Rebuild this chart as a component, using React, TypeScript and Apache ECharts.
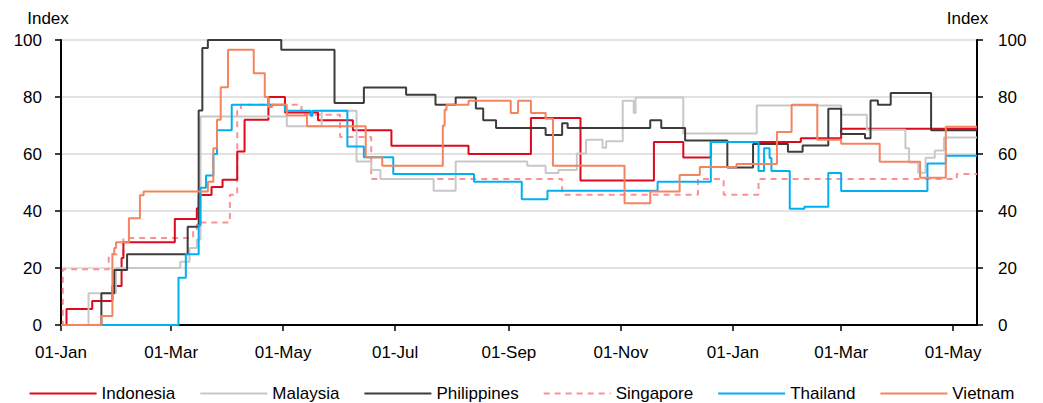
import React, { useEffect, useRef } from "react";
import * as echarts from "echarts";

const seriesNames = ["Indonesia", "Malaysia", "Philippines", "Singapore", "Thailand", "Vietnam"];
const seriesColors = ["#dc0a1e", "#c8c8c8", "#3c3c3c", "#ff8f96", "#00b0f0", "#f4845f"];
const xTickDates = ["2020-01-01", "2020-03-01", "2020-05-01", "2020-07-01", "2020-09-01", "2020-11-01", "2021-01-01", "2021-03-01", "2021-05-01"];
const monthNames = ["Jan", "Feb", "Mar", "Apr", "May", "Jun", "Jul", "Aug", "Sep", "Oct", "Nov", "Dec"];
const xMin = "2020-01-01";
const xMax = "2021-05-14";

// each point: [date the value starts, value]
const indonesia: [string, number][] = [
  ["2020-01-01", 0], ["2020-01-04", 5.6], ["2020-01-18", 8.4], ["2020-01-29", 13.7], ["2020-02-03", 23.5],
  ["2020-02-04", 29], ["2020-03-03", 37.2], ["2020-03-15", 41], ["2020-03-16", 45.6], ["2020-03-23", 48.4],
  ["2020-03-29", 51], ["2020-04-06", 60.9], ["2020-04-10", 72], ["2020-04-23", 80], ["2020-05-02", 74.6],
  ["2020-05-20", 71.8], ["2020-06-08", 68.3], ["2020-06-29", 62.9], ["2020-08-10", 60], ["2020-09-13", 72.6],
  ["2020-10-10", 50.7], ["2020-11-19", 64.2], ["2020-12-05", 58.8], ["2020-12-20", 64.2], ["2021-02-07", 65.5],
  ["2021-03-01", 68.9], ["2021-05-14", 68.9],
];
const malaysia: [string, number][] = [
  ["2020-01-01", 0], ["2020-01-16", 11.1], ["2020-01-31", 20], ["2020-03-06", 22.2], ["2020-03-11", 27],
  ["2020-03-15", 30], ["2020-03-17", 73.2], ["2020-05-03", 69.7], ["2020-05-22", 75.2], ["2020-06-10", 57.4],
  ["2020-06-18", 54.4], ["2020-06-23", 51.2], ["2020-07-22", 47.1], ["2020-08-03", 57.4], ["2020-09-11", 55.9],
  ["2020-09-21", 53.3], ["2020-09-28", 54.4], ["2020-10-08", 60.2], ["2020-10-13", 65], ["2020-10-22", 62.2],
  ["2020-10-24", 64.5], ["2020-11-02", 78.7], ["2020-11-08", 74.4], ["2020-11-09", 79.8], ["2020-12-05", 67.2],
  ["2021-01-14", 77], ["2021-03-01", 73.8], ["2021-03-15", 68.5], ["2021-04-05", 62], ["2021-04-07", 57],
  ["2021-04-12", 53.4], ["2021-04-16", 58.7], ["2021-04-21", 61.2], ["2021-04-26", 65.8], ["2021-05-14", 65.8],
];
const philippines: [string, number][] = [
  ["2020-01-01", 0], ["2020-01-23", 11.1], ["2020-01-30", 19.3], ["2020-02-06", 24.8], ["2020-03-10", 34.5],
  ["2020-03-16", 75.3], ["2020-03-18", 97.2], ["2020-03-21", 100], ["2020-04-30", 96.6], ["2020-05-29", 77.9],
  ["2020-06-14", 83.3], ["2020-07-07", 80.8], ["2020-07-23", 77.3], ["2020-08-03", 79.8], ["2020-08-14", 76],
  ["2020-08-18", 71.8], ["2020-08-25", 69.1], ["2020-09-21", 66.7], ["2020-09-30", 70.8], ["2020-10-03", 69.1],
  ["2020-11-17", 71.8], ["2020-11-23", 69.1], ["2020-12-06", 64.7], ["2020-12-29", 55.3], ["2021-01-12", 63.5],
  ["2021-01-31", 60.8], ["2021-02-08", 63], ["2021-02-22", 75.9], ["2021-03-01", 67], ["2021-03-14", 65.5],
  ["2021-03-17", 78.8], ["2021-03-21", 77.3], ["2021-03-28", 81.4], ["2021-04-19", 68.3], ["2021-05-14", 68.3],
];
const singapore: [string, number][] = [
  ["2020-01-01", 0], ["2020-01-02", 19.6], ["2020-01-27", 24.8], ["2020-02-04", 30.5], ["2020-03-13", 33],
  ["2020-03-15", 36], ["2020-04-02", 45.7], ["2020-04-06", 75.2], ["2020-04-08", 77.3], ["2020-05-11", 73.8],
  ["2020-06-01", 66], ["2020-06-18", 51.2], ["2020-09-30", 45.7], ["2020-12-13", 51.2], ["2020-12-27", 45.7],
  ["2021-01-15", 51.2], ["2021-05-03", 53], ["2021-05-14", 53],
];
const thailand: [string, number][] = [
  ["2020-01-01", 0], ["2020-03-05", 16.6], ["2020-03-09", 24.8], ["2020-03-16", 35], ["2020-03-17", 48.2],
  ["2020-03-20", 52.5], ["2020-03-24", 60], ["2020-03-26", 68.3], ["2020-04-03", 77.3], ["2020-05-02", 75.2],
  ["2020-05-16", 73.4], ["2020-05-17", 75.2], ["2020-06-05", 62.6], ["2020-06-14", 58.9], ["2020-06-30", 53],
  ["2020-08-13", 50.3], ["2020-09-08", 44.1], ["2020-09-22", 47.1], ["2020-11-21", 50.3], ["2020-12-20", 64.2],
  ["2021-01-15", 54], ["2021-01-18", 62], ["2021-01-21", 58.6], ["2021-01-22", 54], ["2021-02-01", 40.8],
  ["2021-02-09", 41.5], ["2021-02-22", 53.3], ["2021-03-01", 47], ["2021-04-17", 56.7], ["2021-04-27", 59.4],
  ["2021-05-14", 59.4],
];
const vietnam: [string, number][] = [
  ["2020-01-01", 0], ["2020-01-23", 3.2], ["2020-01-29", 24.8], ["2020-01-30", 27], ["2020-01-31", 29],
  ["2020-02-07", 37.5], ["2020-02-13", 45.5], ["2020-02-15", 46.8], ["2020-03-21", 50.3], ["2020-03-24", 62],
  ["2020-03-26", 72], ["2020-03-28", 83.4], ["2020-04-01", 96.6], ["2020-04-15", 88.3], ["2020-04-21", 80],
  ["2020-04-23", 76.5], ["2020-04-25", 77.3], ["2020-05-03", 73.5], ["2020-05-14", 69.7], ["2020-06-15", 58.9],
  ["2020-06-24", 55.9], ["2020-07-27", 70], ["2020-07-28", 75.5], ["2020-07-29", 77.3], ["2020-08-10", 78.7],
  ["2020-09-02", 74.4], ["2020-09-06", 78.7], ["2020-09-13", 74.4], ["2020-09-21", 72.4], ["2020-09-25", 55.9],
  ["2020-11-03", 42.7], ["2020-11-17", 46.8], ["2020-12-03", 52.6], ["2020-12-14", 55.4], ["2021-01-03", 56.5],
  ["2021-01-25", 67.7], ["2021-02-02", 77.3], ["2021-02-16", 65], ["2021-03-01", 63.6], ["2021-03-22", 57.3],
  ["2021-04-13", 51.7], ["2021-04-27", 69.6], ["2021-05-14", 69.6],
];
const seriesData = [indonesia, malaysia, philippines, singapore, thailand, vietnam];

const FONT = "'Liberation Sans', Arial, sans-serif";
const FS = 17;

function parseLocal(s: string): number {
  const [y, m, d] = s.split("-").map(Number);
  return new Date(y, m - 1, d).getTime();
}

export default function App() {
  const ref = useRef<HTMLDivElement>(null);
  useEffect(() => {
    if (!ref.current) return;
    const chart = echarts.init(ref.current, undefined, { renderer: "svg" });
    const tickValues = xTickDates.map(parseLocal);
    const yAxisCommon = {
      type: "value",
      min: 0,
      max: 100,
      interval: 20,
      name: "Index",
      nameLocation: "end",
      nameGap: 13,
      nameTextStyle: { fontFamily: FONT, fontSize: FS, color: "#000" },
      axisLine: { show: true, lineStyle: { color: "#000", width: 2 } },
      axisTick: { show: true, length: 6, lineStyle: { color: "#000", width: 1.5 } },
    };
    chart.setOption({
      animation: false,
      backgroundColor: "#fff",
      grid: { left: 61, right: 66, top: 40, bottom: 78, containLabel: false },
      legend: {
        data: seriesNames,
        top: 380,
        left: "center",
        itemWidth: 67,
        itemHeight: 14,
        itemGap: 24,
        itemStyle: { opacity: 0 },
        textStyle: { fontFamily: FONT, fontSize: FS, color: "#000" },
      },
      xAxis: {
        type: "value",
        min: parseLocal(xMin),
        max: parseLocal(xMax),
        axisLine: { show: true, onZero: false, lineStyle: { color: "#000", width: 2 } },
        axisTick: { show: true, length: 6, customValues: tickValues, lineStyle: { color: "#000", width: 1.5 } },
        axisLabel: {
          customValues: tickValues,
          fontFamily: FONT,
          fontSize: FS,
          color: "#000",
          margin: 19,
          formatter: (v: number) => "01-" + monthNames[new Date(v).getMonth()],
        },
        splitLine: { show: false },
      },
      yAxis: [
        {
          ...yAxisCommon,
          position: "left",
          nameTextStyle: { ...yAxisCommon.nameTextStyle, padding: [0, 26, 0, 0] },
          axisLabel: { fontFamily: FONT, fontSize: FS, color: "#000", margin: 19 },
          splitLine: { show: true, lineStyle: { color: "#d9d9d9", width: 1.5 } },
        },
        {
          ...yAxisCommon,
          position: "right",
          nameTextStyle: { ...yAxisCommon.nameTextStyle, padding: [0, 19, 0, 0] },
          axisLabel: { fontFamily: FONT, fontSize: FS, color: "#000", margin: 21 },
          splitLine: { show: false },
        },
      ],
      series: seriesNames.map((name, i) => ({
        name,
        type: "line",
        step: "end",
        showSymbol: false,
        symbol: "none",
        yAxisIndex: 0,
        data: seriesData[i].map(([d, v]) => [parseLocal(d), v]),
        lineStyle: {
          color: seriesColors[i],
          width: 2,
          type: name === "Singapore" ? [6, 5] : "solid",
        },
        itemStyle: { color: seriesColors[i] },
        z: name === "Singapore" ? 1 : 2,
      })),
    });
    return () => chart.dispose();
  }, []);
  return <div ref={ref} style={{ position: "fixed", left: 0, top: 0, width: 1043, height: 403 }} />;
}
